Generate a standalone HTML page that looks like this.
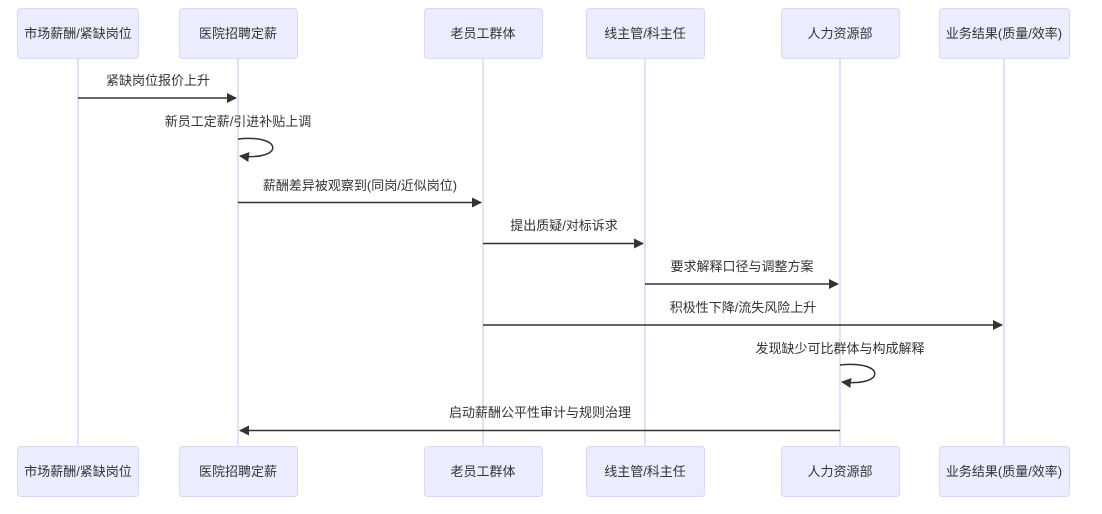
<!DOCTYPE html>
<html><head><meta charset="utf-8"><style>
html,body{margin:0;padding:0;background:#fff;}
svg text{font-family:"Liberation Sans","Noto Sans CJK SC",sans-serif;font-size:13px;fill:#333;}
</style></head><body>
<svg width="1102" height="509" viewBox="0 0 1102 509" xmlns="http://www.w3.org/2000/svg">
<defs><marker id="a" viewBox="0 0 10 10" refX="9" refY="5" markerWidth="10" markerHeight="10" markerUnits="userSpaceOnUse" orient="auto"><path d="M0,0 L10,5 L0,10 z" fill="#333"/></marker></defs>
<g stroke="#ddd6f3" stroke-width="1.5">
<line x1="78" y1="59" x2="78" y2="446"/><line x1="238" y1="59" x2="238" y2="446"/>
<line x1="483" y1="59" x2="483" y2="446"/><line x1="645" y1="59" x2="645" y2="446"/>
<line x1="840" y1="59" x2="840" y2="446"/><line x1="1004" y1="59" x2="1004" y2="446"/>
</g>
<g fill="#ececff" stroke="#dcd8f8" stroke-width="1">
<rect x="17.5" y="8.5" width="121" height="50" rx="3"/><rect x="179.5" y="8.5" width="118" height="50" rx="3"/>
<rect x="424.5" y="8.5" width="118" height="50" rx="3"/><rect x="586.5" y="8.5" width="118" height="50" rx="3"/>
<rect x="781.5" y="8.5" width="118" height="50" rx="3"/><rect x="939.5" y="8.5" width="130" height="50" rx="3"/>
<rect x="17.5" y="446.5" width="121" height="50" rx="3"/><rect x="179.5" y="446.5" width="118" height="50" rx="3"/>
<rect x="424.5" y="446.5" width="118" height="50" rx="3"/><rect x="586.5" y="446.5" width="118" height="50" rx="3"/>
<rect x="781.5" y="446.5" width="118" height="50" rx="3"/><rect x="939.5" y="446.5" width="130" height="50" rx="3"/>
</g>
<g text-anchor="middle">
<text x="78" y="38">市场薪酬/紧缺岗位</text><text x="238" y="38">医院招聘定薪</text><text x="483" y="38">老员工群体</text>
<text x="645" y="38">线主管/科主任</text><text x="840" y="38">人力资源部</text><text x="1004" y="38">业务结果(质量/效率)</text>
<text x="78" y="476">市场薪酬/紧缺岗位</text><text x="238" y="476">医院招聘定薪</text><text x="483" y="476">老员工群体</text>
<text x="645" y="476">线主管/科主任</text><text x="840" y="476">人力资源部</text><text x="1004" y="476">业务结果(质量/效率)</text>
<text x="158" y="85">紧缺岗位报价上升</text>
<text x="238" y="126">新员工定薪/引进补贴上调</text>
<text x="360" y="190">薪酬差异被观察到(同岗/近似岗位)</text>
<text x="564" y="230">提出质疑/对标诉求</text>
<text x="742" y="271">要求解释口径与调整方案</text>
<text x="743" y="312">积极性下降/流失风险上升</text>
<text x="840" y="353">发现缺少可比群体与构成解释</text>
<text x="540" y="417">启动薪酬公平性审计与规则治理</text>
</g>
<g stroke="#333" stroke-width="1.5" fill="none">
<line x1="78" y1="98" x2="236" y2="98" marker-end="url(#a)"/>
<path d="M238,139 C284,134 284,161 240,156" marker-end="url(#a)"/>
<line x1="238" y1="202.5" x2="481" y2="202.5" marker-end="url(#a)"/>
<line x1="483" y1="243.5" x2="643" y2="243.5" marker-end="url(#a)"/>
<line x1="645" y1="284" x2="838" y2="284" marker-end="url(#a)"/>
<line x1="483" y1="325" x2="1002" y2="325" marker-end="url(#a)"/>
<path d="M840,365 C886,360 886,387 842,382" marker-end="url(#a)"/>
<line x1="840" y1="430.5" x2="240" y2="430.5" marker-end="url(#a)"/>
</g>
</svg>
</body></html>
